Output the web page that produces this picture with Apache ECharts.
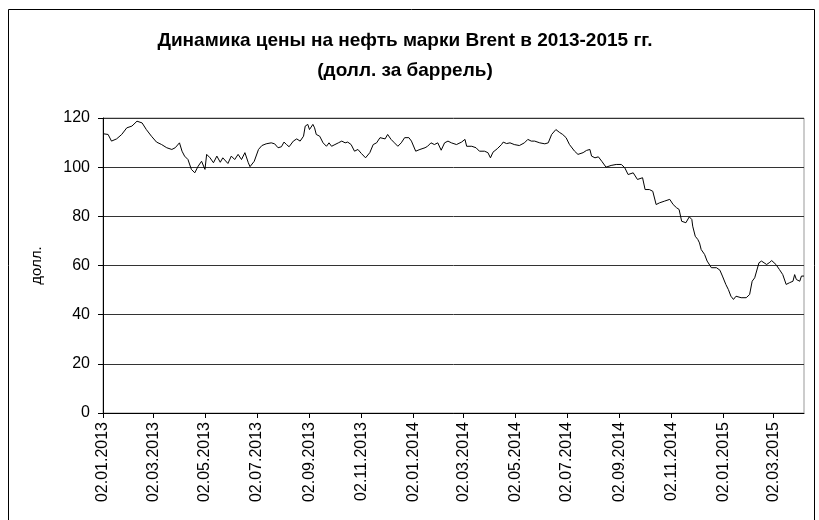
<!DOCTYPE html>
<html>
<head>
<meta charset="utf-8">
<script src="https://cdn.jsdelivr.net/npm/echarts@6/dist/echarts.min.js"></script>
<style>
  html, body { margin: 0; padding: 0; background: #fff; }
  #chart { width: 819px; height: 520px; }
</style>
</head>
<body>
<div id="chart"></div>
<script>
// цена Brent, долл. за баррель
const dates = [
  '2013-01-02','2013-01-08','2013-01-12','2013-01-18','2013-01-24','2013-01-30','2013-02-05','2013-02-11',
  '2013-02-17','2013-02-22','2013-02-28','2013-03-06','2013-03-12','2013-03-18','2013-03-24','2013-03-28',
  '2013-04-02','2013-04-05','2013-04-08','2013-04-12','2013-04-16','2013-04-20','2013-04-24','2013-04-28',
  '2013-05-02','2013-05-04','2013-05-08','2013-05-12','2013-05-16','2013-05-20','2013-05-23','2013-05-29',
  '2013-06-02','2013-06-06','2013-06-10','2013-06-14','2013-06-18','2013-06-22','2013-06-24','2013-06-29',
  '2013-07-04','2013-07-08','2013-07-13','2013-07-19','2013-07-23','2013-07-27','2013-07-31','2013-08-03',
  '2013-08-06','2013-08-09','2013-08-14','2013-08-18','2013-08-22','2013-08-26','2013-08-28','2013-08-31',
  '2013-09-02','2013-09-06','2013-09-08','2013-09-10','2013-09-14','2013-09-18','2013-09-22','2013-09-25',
  '2013-09-28','2013-10-02','2013-10-06','2013-10-10','2013-10-14','2013-10-17','2013-10-21','2013-10-25',
  '2013-10-29','2013-11-02','2013-11-07','2013-11-12','2013-11-16','2013-11-20','2013-11-24','2013-11-30',
  '2013-12-03','2013-12-07','2013-12-11','2013-12-15','2013-12-19','2013-12-23','2013-12-28','2013-12-31',
  '2014-01-02','2014-01-05','2014-01-10','2014-01-16','2014-01-19','2014-01-23','2014-01-27','2014-01-31',
  '2014-02-04','2014-02-08','2014-02-12','2014-02-16','2014-02-22','2014-02-28','2014-03-04','2014-03-06',
  '2014-03-12','2014-03-17','2014-03-21','2014-03-27','2014-03-31','2014-04-03','2014-04-06','2014-04-11',
  '2014-04-16','2014-04-18','2014-04-22','2014-04-26','2014-05-01','2014-05-07','2014-05-13','2014-05-17',
  '2014-05-21','2014-05-25','2014-05-31','2014-06-06','2014-06-10','2014-06-14','2014-06-19','2014-06-23',
  '2014-06-27','2014-07-01','2014-07-05','2014-07-11','2014-07-15','2014-07-21','2014-07-25','2014-07-29',
  '2014-07-31','2014-08-04','2014-08-08','2014-08-12','2014-08-17','2014-08-23','2014-08-29','2014-09-04',
  '2014-09-08','2014-09-12','2014-09-18','2014-09-23','2014-09-29','2014-10-02','2014-10-07','2014-10-11',
  '2014-10-15','2014-10-19','2014-10-25','2014-10-31','2014-11-04','2014-11-08','2014-11-11','2014-11-14',
  '2014-11-19','2014-11-23','2014-11-26','2014-11-27','2014-11-30','2014-12-03','2014-12-05','2014-12-07',
  '2014-12-11','2014-12-14','2014-12-19','2014-12-25','2014-12-29','2015-01-01','2015-01-05','2015-01-08',
  '2015-01-11','2015-01-14','2015-01-17','2015-01-23','2015-01-29','2015-02-02','2015-02-05','2015-02-08',
  '2015-02-10','2015-02-13','2015-02-16','2015-02-19','2015-02-22','2015-02-25','2015-02-28','2015-03-05',
  '2015-03-09','2015-03-13','2015-03-17','2015-03-21','2015-03-25','2015-03-27','2015-03-29','2015-04-02',
  '2015-04-04','2015-04-07'
];
const prices = [
  113.6,113.3,110.6,111.5,113.3,116.0,116.7,118.7,
  118.0,115.3,112.6,110.2,109.2,107.9,107.2,107.9,
  109.9,106.5,104.5,103.1,99.1,97.7,100.4,102.4,
  99.1,105.2,103.8,101.8,104.5,102.0,103.8,101.5,
  104.5,103.1,105.2,103.1,105.9,101.8,100.2,102.4,
  107.2,108.8,109.5,109.9,109.5,107.9,108.3,110.2,
  109.2,108.3,110.6,111.5,110.6,112.6,116.7,117.4,
  115.3,117.4,116.0,113.3,112.6,109.9,108.5,109.9,
  108.5,109.2,109.9,110.6,109.9,110.2,109.2,106.5,
  107.2,105.6,103.8,105.9,109.2,109.9,112.0,111.5,
  113.3,111.3,109.9,108.5,109.9,112.0,112.0,110.6,
  109.9,106.5,107.2,107.9,108.5,109.9,109.2,109.9,
  106.9,109.9,110.6,109.9,109.2,110.2,111.3,108.5,
  108.5,107.9,106.5,106.5,105.9,103.8,106.1,107.5,
  109.2,110.2,109.6,109.9,109.2,108.8,109.9,111.3,
  110.6,110.6,109.9,109.5,109.9,113.3,115.3,114.2,
  113.3,112.0,109.2,106.5,105.2,105.9,106.8,107.2,
  104.5,103.8,104.2,102.4,100.0,100.7,101.1,101.1,
  99.8,97.0,97.7,95.0,95.7,90.9,90.9,90.2,
  84.8,85.5,86.2,86.9,84.8,83.5,82.8,78.0,
  77.4,79.8,78.7,76.0,71.9,70.6,69.2,66.5,
  64.5,61.8,59.1,59.1,58.1,55.7,52.3,50.2,
  47.5,46.2,47.5,46.9,46.9,48.2,53.6,55.0,
  54.3,61.1,61.8,61.1,60.4,61.1,62.0,60.4,
  58.4,56.3,52.3,53.0,53.6,56.3,54.3,53.6,
  55.7,55.7
];
const tickLabels = [
  '02.01.2013','02.03.2013','02.05.2013','02.07.2013','02.09.2013','02.11.2013',
  '02.01.2014','02.03.2014','02.05.2014','02.07.2014','02.09.2014','02.11.2014',
  '02.01.2015','02.03.2015'
];
const xMin = '2013-01-02';
const xMax = '2015-04-07';

function parseIso(s) {
  const p = s.split('-');
  return new Date(+p[0], +p[1] - 1, +p[2]).getTime();
}
function parseRu(s) {
  const p = s.split('.');
  return new Date(+p[2], +p[1] - 1, +p[0]).getTime();
}
function fmtRu(v) {
  const d = new Date(v);
  const dd = String(d.getDate()).padStart(2, '0');
  const mm = String(d.getMonth() + 1).padStart(2, '0');
  return dd + '.' + mm + '.' + d.getFullYear();
}
const tickValues = tickLabels.map(parseRu);

const chart = echarts.init(document.getElementById('chart'));
const font = '"Liberation Sans", Arial, sans-serif';

chart.setOption({
  backgroundColor: '#fff',
  animation: false,
  textStyle: { fontFamily: font },
  title: {
    text: 'Динамика цены на нефть марки Brent в 2013-2015 гг.\n(долл. за баррель)',
    left: 400,
    textAlign: 'center',
    top: 21,
    textStyle: { fontFamily: font, fontSize: 19, fontWeight: 'bold', color: '#000', lineHeight: 30 }
  },
  graphic: [{
    type: 'rect',
    shape: { x: 8.5, y: 9.5, width: 806, height: 520 },
    style: { fill: null, stroke: '#000', lineWidth: 1 },
    silent: true
  }],
  grid: {
    left: 103, right: 15, top: 118, bottom: 107,
    show: true, borderColor: '#999', borderWidth: 1, backgroundColor: 'transparent'
  },
  xAxis: {
    type: 'value',
    min: parseIso(xMin),
    max: parseIso(xMax),
    axisLine: { lineStyle: { color: '#000', width: 1 } },
    axisTick: { show: true, customValues: tickValues, length: 5, lineStyle: { color: '#000' } },
    axisLabel: {
      customValues: tickValues,
      rotate: 90,
      margin: 9,
      color: '#000',
      fontSize: 16,
      fontFamily: font,
      formatter: fmtRu
    },
    splitLine: { show: false }
  },
  yAxis: {
    type: 'value',
    min: 0,
    max: 120,
    interval: 20,
    name: 'долл.',
    nameLocation: 'middle',
    nameRotate: 90,
    nameGap: 59,
    nameTextStyle: { color: '#000', fontSize: 15, fontFamily: font },
    axisLine: { show: true, lineStyle: { color: '#000', width: 1 } },
    axisTick: { show: true, length: 5, lineStyle: { color: '#000' } },
    axisLabel: { color: '#000', fontSize: 16, fontFamily: font, margin: 13 },
    splitLine: { show: true, lineStyle: { color: '#333', width: 1 } }
  },
  series: [{
    type: 'line',
    data: dates.map((d, i) => [parseIso(d), prices[i]]),
    showSymbol: false,
    symbol: 'none',
    lineStyle: { color: '#000', width: 1 },
    z: 5
  }]
});
</script>
</body>
</html>
